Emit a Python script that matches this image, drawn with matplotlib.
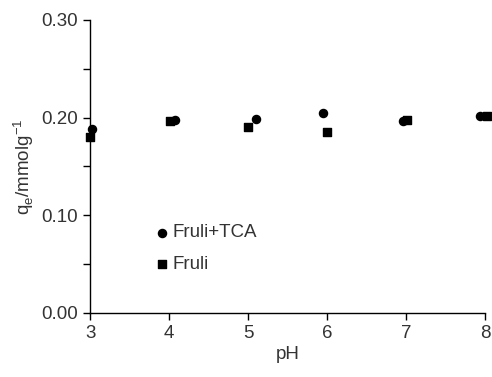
import matplotlib
matplotlib.use('Agg')
import matplotlib.pyplot as plt
from matplotlib.ticker import MultipleLocator

plt.rcParams['font.family'] = ['Liberation Sans', 'DejaVu Sans']

# Dữ liệu
ph_tca = [3.03, 4.08, 5.10, 5.95, 6.96, 7.94]
qe_tca = [0.188, 0.1975, 0.199, 0.205, 0.197, 0.2015]
ph_fruli = [3.0, 4.01, 5.0, 6.0, 7.01, 8.02]
qe_fruli = [0.180, 0.197, 0.190, 0.185, 0.1975, 0.2015]

fs = 13.5

fig = plt.figure(figsize=(4.92, 3.77), dpi=100)
ax = fig.add_axes([0.183, 0.170, 0.803, 0.777])

ax.scatter(ph_tca, qe_tca, marker='o', s=34, color='black', label='Fruli+TCA', clip_on=False, zorder=3)
ax.scatter(ph_fruli, qe_fruli, marker='s', s=34, color='black', label='Fruli', clip_on=False, zorder=3)

ax.set_xlim(3, 8)
ax.set_ylim(0, 0.30)
ax.xaxis.set_major_locator(MultipleLocator(1))
ax.yaxis.set_major_locator(MultipleLocator(0.1))
ax.yaxis.set_minor_locator(MultipleLocator(0.05))
ax.yaxis.set_major_formatter(plt.FormatStrFormatter('%.2f'))

for s in ['top', 'right']:
    ax.spines[s].set_visible(False)
for s in ['left', 'bottom']:
    ax.spines[s].set_linewidth(1.0)

ax.tick_params(axis='both', which='major', direction='out', length=5, width=1, labelsize=fs, colors='black')
ax.tick_params(axis='y', which='minor', direction='out', length=5, width=1)
for lbl in ax.get_xticklabels() + ax.get_yticklabels():
    lbl.set_color('#333333')

ax.set_xlabel('pH', fontsize=fs, color='#333333', labelpad=3)
ax.set_ylabel('q$_\\mathregular{e}$/mmolg$^\\mathregular{-1}$', fontsize=fs, color='#333333')

leg = ax.legend(loc='upper left', bbox_to_anchor=(0.11, 0.36), frameon=False,
                fontsize=fs, handletextpad=0.0, labelspacing=0.75, handlelength=1.2,
                scatterpoints=1)
for t in leg.get_texts():
    t.set_color('#333333')

plt.savefig('out.png', dpi=100)
